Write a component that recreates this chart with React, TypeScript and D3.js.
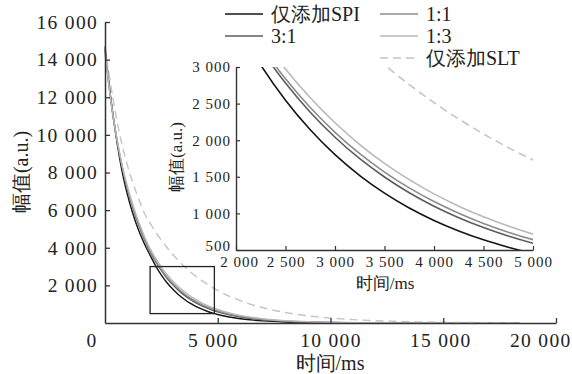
import React, { useRef, useEffect } from "react";
import * as d3 from "d3";

// time axis (ms) shared by all series
const times = [0, 250, 500, 750, 1000, 1250, 1500, 1750, 2000, 2250, 2500, 2750, 3000, 3250, 3500, 3750, 4000, 4250, 4500, 4750, 5000,
  5500, 6000, 7000, 8000, 9000, 10000, 11000, 12000, 13000, 14000, 15000, 16000, 17000, 18400];

const spiOnly = [14700, 12000, 9850, 8100, 6800, 5750, 4900, 4200, 3600, 3027, 2546, 2142, 1802, 1516, 1276, 1073, 903, 760, 639, 538, 452,
  320, 226, 113, 56, 28, 14, 8, 5, 3, 2, 1, 1, 0, 0];
const ratio31 = [14600, 11950, 9950, 8350, 7080, 6060, 5180, 4430, 3789, 3245, 2780, 2381, 2040, 1747, 1497, 1282, 1098, 941, 806, 690, 591,
  433, 317, 170, 91, 49, 26, 14, 8, 4, 2, 1, 1, 0, 0];
const ratio11 = [14500, 11900, 9950, 8370, 7120, 6110, 5230, 4470, 3822, 3294, 2838, 2446, 2108, 1816, 1565, 1349, 1162, 1002, 863, 744, 641,
  476, 354, 194, 107, 59, 32, 18, 10, 5, 3, 2, 1, 0, 0];
const ratio13 = [14400, 11880, 9980, 8450, 7240, 6230, 5350, 4600, 3955, 3430, 2974, 2580, 2238, 1941, 1684, 1461, 1267, 1099, 953, 827, 717,
  537, 403, 226, 127, 71, 40, 22, 13, 7, 4, 2, 1, 1, 0];
const sltOnly = [14700, 12700, 10950, 9500, 8350, 7400, 6580, 5830, 5310, 4835, 4404, 4011, 3653, 3327, 3030, 2760, 2514, 2290, 2085, 1899, 1730,
  1432, 1185, 812, 556, 381, 261, 179, 122, 84, 57, 39, 27, 18, 11];

const seriesNames = ["仅添加SPI", "3:1", "1:1", "1:3", "仅添加SLT"];
const seriesValues = [spiOnly, ratio31, ratio11, ratio13, sltOnly];
const colors = ["#151515", "#5c5c5c", "#8c8c8c", "#b9b9b9", "#c4c4c4"];

const mainXTicks = [5000, 10000, 15000, 20000];
const mainYTicks = [2000, 4000, 6000, 8000, 10000, 12000, 14000, 16000];
const insetXTicks = [2000, 2500, 3000, 3500, 4000, 4500, 5000];
const insetYTicks = [500, 1000, 1500, 2000, 2500, 3000];
const zoomBox = { x0: 2000, x1: 4850, y0: 500, y1: 3000 };

const serif = "Liberation Serif, serif";
const fmt = (v: number) => d3.format(",")(v).replace(/,/g, " ");

export default function App() {
  const ref = useRef<SVGSVGElement>(null);

  useEffect(() => {
    document.body.style.margin = "0";
    const width = 572, height = 374;
    const svg = d3.select(ref.current);
    svg.selectAll("*").remove();
    svg.attr("width", width).attr("height", height).attr("font-family", serif);

    const x = d3.scaleLinear().domain([0, 20000]).range([105, 556]);
    const y = d3.scaleLinear().domain([0, 16000]).range([323, 22]);

    const data = seriesValues.map(vals => vals.map((v, i) => [times[i], v] as [number, number]));

    // main curves
    const line = d3.line<[number, number]>().x(d => x(d[0])).y(d => y(d[1])).curve(d3.curveMonotoneX);
    data.forEach((d, i) => {
      svg.append("path").attr("d", line(d)).attr("fill", "none")
        .attr("stroke", colors[i]).attr("stroke-width", 1.4)
        .attr("stroke-dasharray", i === 4 ? "8,5" : null);
    });

    // zoom rectangle
    svg.append("rect")
      .attr("x", x(zoomBox.x0)).attr("y", y(zoomBox.y1))
      .attr("width", x(zoomBox.x1) - x(zoomBox.x0)).attr("height", y(zoomBox.y0) - y(zoomBox.y1))
      .attr("fill", "none").attr("stroke", "#222").attr("stroke-width", 1.3);

    // main axes
    const gx = svg.append("g").attr("transform", `translate(0,${y(0)})`)
      .call(d3.axisBottom(x).tickValues(mainXTicks).tickSize(-5).tickSizeOuter(0).tickPadding(10).tickFormat(d => fmt(+d)));
    gx.selectAll("text").filter(d => d === 20000).attr("text-anchor", "end").attr("x", 571 - x(20000));
    gx.selectAll("text").filter(d => d === 5000).attr("x", -5);
    gx.selectAll("text").filter(d => d === 15000).attr("x", -3);
    gx.append("text").attr("x", x(0) - 13).attr("y", 10).attr("dy", "0.71em")
      .attr("fill", "#222").attr("text-anchor", "middle").text("0");

    const gy = svg.append("g").attr("transform", `translate(${x(0)},0)`)
      .call(d3.axisLeft(y).tickValues(mainYTicks).tickSize(-5).tickSizeOuter(0).tickPadding(7).tickFormat(d => fmt(+d)));

    [gx, gy].forEach(g => {
      g.attr("font-family", serif).attr("font-size", 19.5);
      g.selectAll("text").attr("fill", "#222").attr("letter-spacing", 1.3);
      g.select(".domain").attr("stroke", "#333").attr("stroke-width", 1.5);
      g.selectAll(".tick line").attr("stroke", "#333").attr("stroke-width", 1.3);
    });

    svg.append("text").attr("x", 330).attr("y", 370).attr("text-anchor", "middle")
      .attr("font-size", 20).attr("fill", "#222").text("时间/ms");
    svg.append("text").attr("transform", "translate(28,172) rotate(-90)").attr("text-anchor", "middle")
      .attr("font-size", 20).attr("fill", "#222").text("幅值(a.u.)");

    // inset
    const xi = d3.scaleLinear().domain([2000, 5000]).range([236, 533]);
    const yi = d3.scaleLinear().domain([500, 3000]).range([250, 67]);
    svg.append("clipPath").attr("id", "insetClip").append("rect")
      .attr("x", xi(2000)).attr("y", yi(3000)).attr("width", xi(5000) - xi(2000)).attr("height", yi(500) - yi(3000));
    const lineI = d3.line<[number, number]>().x(d => xi(d[0])).y(d => yi(d[1])).curve(d3.curveMonotoneX);
    const gi = svg.append("g").attr("clip-path", "url(#insetClip)");
    data.forEach((d, i) => {
      gi.append("path").attr("d", lineI(d)).attr("fill", "none")
        .attr("stroke", colors[i]).attr("stroke-width", 1.6)
        .attr("stroke-dasharray", i === 4 ? "8,5" : null);
    });

    const gxi = svg.append("g").attr("transform", `translate(0,${yi(500)})`)
      .call(d3.axisBottom(xi).tickValues(insetXTicks).tickSize(-4).tickSizeOuter(0).tickPadding(6).tickFormat(d => fmt(+d)));
    const gyi = svg.append("g").attr("transform", `translate(${xi(2000)},0)`)
      .call(d3.axisLeft(yi).tickValues(insetYTicks).tickSize(-4).tickSizeOuter(0).tickPadding(5).tickFormat(d => fmt(+d)));
    [gxi, gyi].forEach(g => {
      g.attr("font-family", serif).attr("font-size", 15);
      g.selectAll("text").attr("fill", "#222").attr("letter-spacing", 1);
      g.select(".domain").attr("stroke", "#333").attr("stroke-width", 1.4);
      g.selectAll(".tick line").attr("stroke", "#333").attr("stroke-width", 1.2);
    });
    gyi.selectAll("text").filter(d => d === 500).attr("dy", "0.05em");
    gxi.selectAll("text").filter(d => d === 2000).attr("x", 3);
    svg.append("text").attr("x", 385).attr("y", 289).attr("text-anchor", "middle")
      .attr("font-size", 17).attr("fill", "#222").text("时间/ms");
    svg.append("text").attr("transform", "translate(182,157) rotate(-90)").attr("text-anchor", "middle")
      .attr("font-size", 17).attr("fill", "#222").text("幅值(a.u.)");

    // legend
    const legendPos = [[225, 14], [225, 36], [380, 14], [380, 36], [380, 58]];
    seriesNames.forEach((name, k) => {
      const [lx, ly] = legendPos[k];
      svg.append("line").attr("x1", lx).attr("x2", lx + 38).attr("y1", ly).attr("y2", ly)
        .attr("stroke", colors[k]).attr("stroke-width", 1.5)
        .attr("stroke-dasharray", k === 4 ? "8,5" : null);
      svg.append("text").attr("x", lx + 46).attr("y", ly + 7).attr("font-size", 20)
        .attr("fill", "#222").text(name);
    });
  }, []);

  return <svg ref={ref} style={{ display: "block" }}></svg>;
}
